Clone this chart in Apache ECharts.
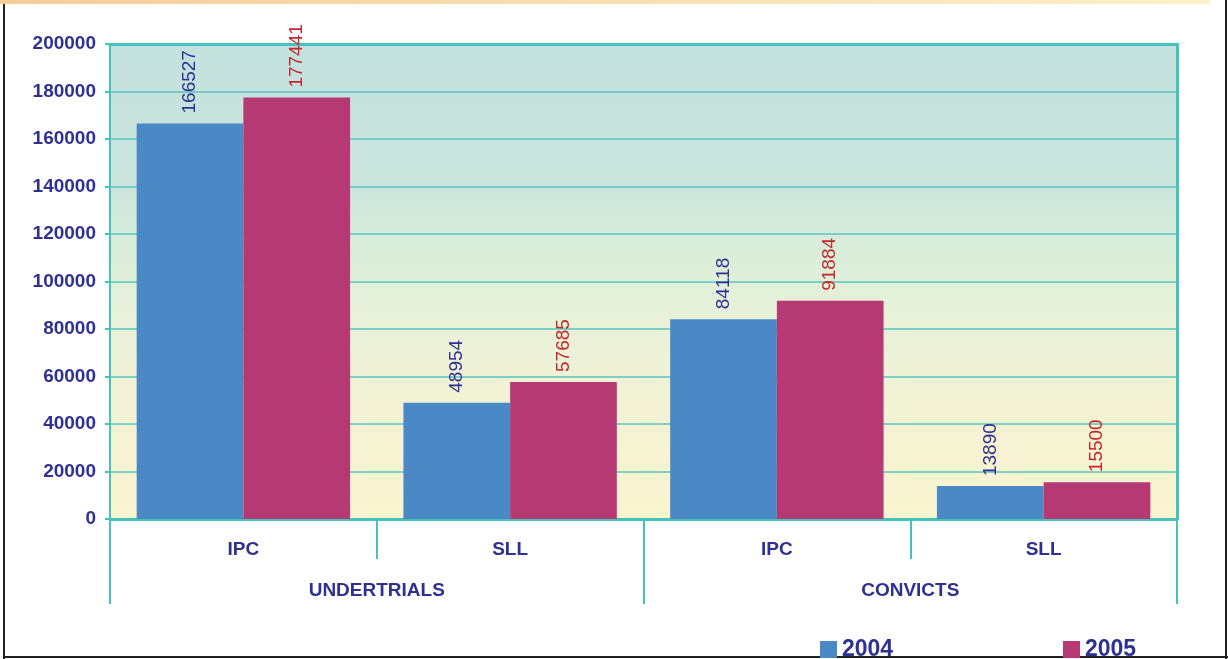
<!DOCTYPE html>
<html>
<head>
<meta charset="utf-8">
<title>Undertrials and Convicts</title>
<script src="https://cdn.jsdelivr.net/npm/echarts@6/dist/echarts.min.js"></script>
<style>
  html, body { margin: 0; padding: 0; background: #fff; }
  #chart { width: 1228px; height: 659px; }
</style>
</head>
<body>
<div id="chart"></div>
<script>
// sub categories (inner axis) and groups (outer axis)
const subCategories = ['IPC', 'SLL', 'IPC', 'SLL']
const groups = ['UNDERTRIALS', 'CONVICTS']
const values2004 = [166527, 48954, 84118, 13890]
const values2005 = [177441, 57685, 91884, 15500]
const yTicks = [0, 20000, 40000, 60000, 80000, 100000, 120000, 140000, 160000, 180000, 200000]

const navy = '#2e3192'
const teal = '#45c2bb'

const chart = echarts.init(document.getElementById('chart'))

const barLabel = (color) => ({
  show: true,
  position: 'top',
  rotate: 90,
  align: 'left',
  verticalAlign: 'middle',
  distance: 10,
  color: color,
  fontSize: 19,
  fontFamily: 'Liberation Sans'
})

const legendBase = {
  itemWidth: 17,
  itemHeight: 17,
  icon: 'rect',
  padding: 0,
  textStyle: { color: navy, fontSize: 23, fontWeight: 'bold', fontFamily: 'Liberation Sans' }
}

const option = {
  animation: false,
  textStyle: { fontFamily: 'Liberation Sans' },
  graphic: [
    // top strip
    { type: 'rect', shape: { x: 0, y: 0, width: 1210, height: 4 },
      style: { fill: new echarts.graphic.LinearGradient(0, 0, 1, 0, [
        { offset: 0, color: '#f6cc98' }, { offset: 1, color: '#faf1ca' }]) } },
    // outer frame
    { type: 'rect', shape: { x: 3, y: 4, width: 2, height: 655 }, style: { fill: '#222' } },
    { type: 'rect', shape: { x: 3, y: 656, width: 1225, height: 2 }, style: { fill: '#222' } },
    { type: 'rect', shape: { x: 1225, y: 0, width: 2, height: 659 }, style: { fill: '#222' } }
  ],
  legend: [
    Object.assign({ data: ['2004'], left: 820, top: 638 }, legendBase),
    Object.assign({ data: ['2005'], left: 1063, top: 638 }, legendBase)
  ],
  grid: {
    left: 110, right: 51, top: 44, bottom: 140,
    show: true,
    borderWidth: 0,
    backgroundColor: new echarts.graphic.LinearGradient(0, 0, 0, 1, [
      { offset: 0, color: '#c3e1de' },
      { offset: 0.3, color: '#cbe5dc' },
      { offset: 0.45, color: '#dbeed9' },
      { offset: 0.56, color: '#e7f1da' },
      { offset: 0.75, color: '#f3f2d5' },
      { offset: 1, color: '#faf4cf' }
    ])
  },
  xAxis: [
    {
      type: 'category',
      data: subCategories,
      position: 'bottom',
      axisLine: { lineStyle: { color: teal, width: 3 } },
      axisTick: { show: true, length: 40, lineStyle: { color: teal, width: 2 } },
      axisLabel: { color: navy, fontSize: 19, fontWeight: 'bold', margin: 21 }
    },
    {
      type: 'category',
      data: groups,
      position: 'bottom',
      offset: 0,
      axisLine: { show: false },
      axisTick: { show: true, length: 85, lineStyle: { color: teal, width: 2 } },
      axisLabel: { color: navy, fontSize: 19, fontWeight: 'bold', margin: 62 }
    },
    {
      // top frame of plot
      type: 'category',
      data: subCategories,
      position: 'top',
      axisLine: { lineStyle: { color: teal, width: 3 } },
      axisTick: { show: false },
      axisLabel: { show: false }
    }
  ],
  yAxis: [
    {
      type: 'value',
      min: yTicks[0],
      max: yTicks[yTicks.length - 1],
      interval: 20000,
      axisLine: { show: true, lineStyle: { color: teal, width: 2 } },
      axisTick: { show: true, length: 5, lineStyle: { color: teal, width: 2 } },
      axisLabel: { color: navy, fontSize: 19, fontWeight: 'bold', margin: 14, formatter: (v) => String(v) },
      splitLine: { lineStyle: { color: '#57c4bd', width: 1.5 } }
    },
    {
      type: 'value',
      position: 'right',
      min: yTicks[0],
      max: yTicks[yTicks.length - 1],
      interval: 20000,
      axisLine: { show: true, lineStyle: { color: teal, width: 3 } },
      axisTick: { show: false },
      axisLabel: { show: false },
      splitLine: { show: false }
    }
  ],
  series: [
    {
      name: '2004',
      type: 'bar',
      data: values2004,
      barGap: '0%',
      barCategoryGap: '20%',
      itemStyle: { color: '#4a88c6' },
      label: barLabel(navy)
    },
    {
      name: '2005',
      type: 'bar',
      data: values2005,
      barGap: '0%',
      barCategoryGap: '20%',
      itemStyle: { color: '#b53a74' },
      label: barLabel('#c1272d')
    }
  ]
}

chart.setOption(option)
</script>
</body>
</html>
